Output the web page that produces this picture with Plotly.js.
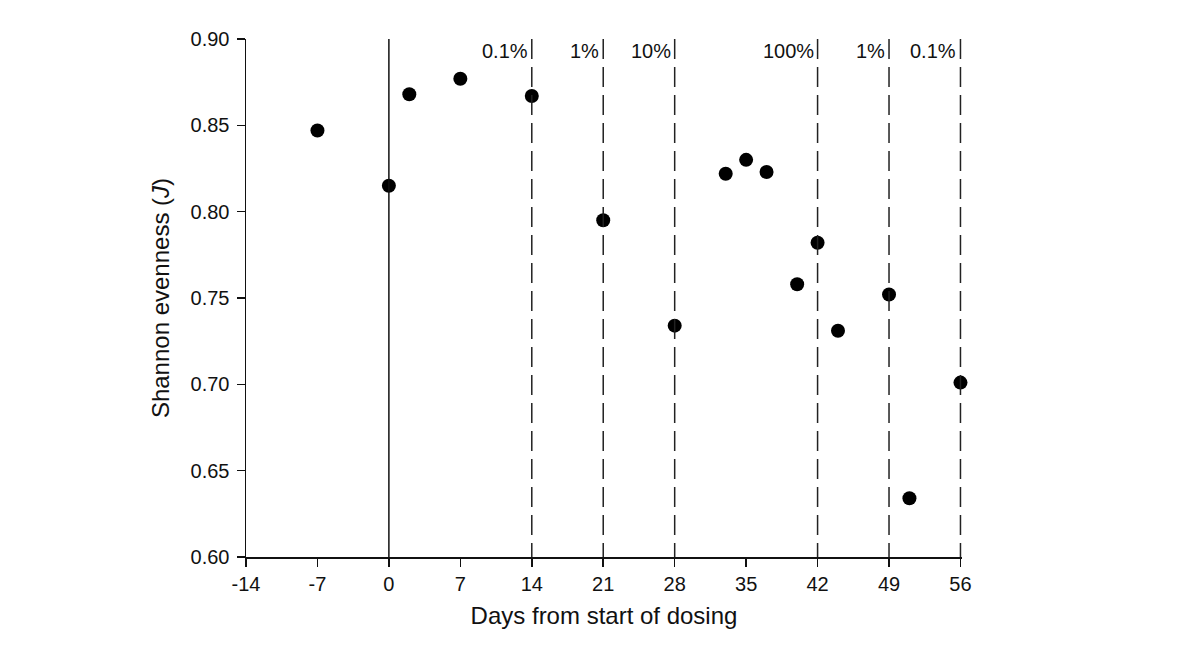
<!DOCTYPE html>
<html>
<head>
<meta charset="utf-8">
<script src="https://cdn.plot.ly/plotly-3.0.1.min.js"></script>
<style>html,body{margin:0;padding:0;background:#fff;}#chart{width:1204px;height:660px;}</style>
</head>
<body>
<div id="chart"></div>
<script>
// Data
var days = [-7, 0, 2, 7, 14, 21, 28, 33, 35, 37, 40, 42, 44, 49, 51, 56];
var evenness = [0.847, 0.815, 0.868, 0.877, 0.867, 0.795, 0.734, 0.822, 0.830, 0.823, 0.758, 0.782, 0.731, 0.752, 0.634, 0.701];
var doseDays = [14, 21, 28, 42, 49, 56];
var doseLabels = ['0.1%', '1%', '10%', '100%', '1%', '0.1%'];
var startDay = 0;
var xTicks = [-14, -7, 0, 7, 14, 21, 28, 35, 42, 49, 56];
var yTicks = [0.60, 0.65, 0.70, 0.75, 0.80, 0.85, 0.90];
var yMin = 0.6, yMax = 0.9;

var FONT = 'Liberation Sans, Arial, sans-serif';

var shapes = [{
  type: 'line', xref: 'x', yref: 'y',
  x0: startDay, x1: startDay, y0: yMax, y1: yMin,
  line: {color: '#111', width: 1.5}
}];
doseDays.forEach(function (d) {
  shapes.push({
    type: 'line', xref: 'x', yref: 'y',
    x0: d, x1: d, y0: yMax, y1: yMin,
    line: {color: '#222', width: 1.5, dash: '20px,8px'}
  });
});

var trace = {
  x: days, y: evenness, type: 'scatter', mode: 'markers',
  marker: {color: '#000', size: 14},
  hoverinfo: 'x+y', cliponaxis: false
};

var annotations = doseDays.map(function (d, i) {
  return {
    x: d, y: yMax, xref: 'x', yref: 'y',
    text: doseLabels[i], showarrow: false,
    xanchor: 'right', yanchor: 'top', xshift: -2, yshift: 1,
    font: {family: FONT, size: 20, color: '#111'}
  };
});

var layout = {
  width: 1204, height: 660,
  margin: {l: 246, r: 241.5, t: 39, b: 103, pad: 0},
  paper_bgcolor: '#fff', plot_bgcolor: '#fff',
  showlegend: false,
  font: {family: FONT, size: 20, color: '#111'},
  xaxis: {
    range: [-14, 56.15], tickvals: xTicks, ticktext: xTicks.map(String),
    showgrid: false, zeroline: false, showline: true, linecolor: '#111', linewidth: 1.5,
    ticks: 'outside', ticklen: 8, tickwidth: 1.5, tickcolor: '#111',
    tickfont: {family: FONT, size: 20, color: '#111'},
    title: {text: 'Days from start of dosing', font: {family: FONT, size: 24, color: '#111'}, standoff: 13},
    automargin: false, fixedrange: true
  },
  yaxis: {
    range: [yMin, yMax], tickvals: yTicks, ticktext: yTicks.map(function (v) { return v.toFixed(2); }),
    showgrid: false, zeroline: false, showline: true, linecolor: '#111', linewidth: 1.5,
    ticks: 'outside', ticklen: 8, tickwidth: 1.5, tickcolor: '#111',
    tickfont: {family: FONT, size: 20, color: '#111'},
    ticklabelstandoff: 3,
    title: {text: 'Shannon evenness (<i>J</i>)', font: {family: FONT, size: 24, color: '#111'}, standoff: 14},
    automargin: false, fixedrange: true
  },
  shapes: shapes,
  annotations: annotations
};

Plotly.newPlot('chart', [trace], layout, {displayModeBar: false, staticPlot: true});
</script>
</body>
</html>
